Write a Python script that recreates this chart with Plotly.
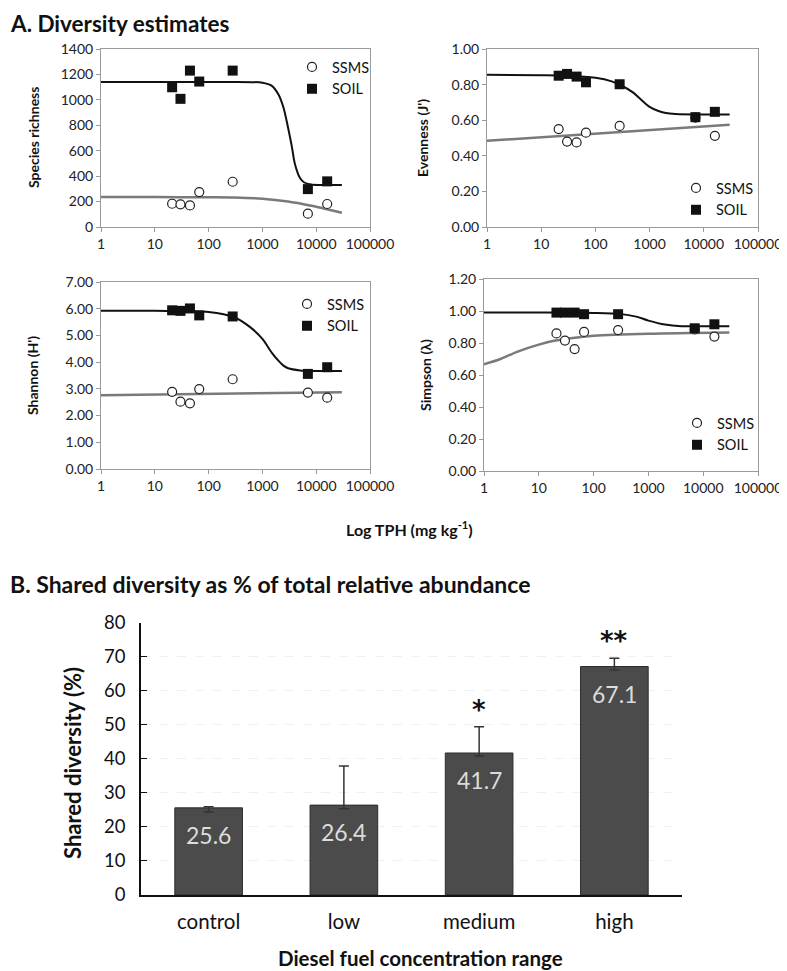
import plotly.graph_objects as go

# ---------------- data ----------------
tph = [21, 30, 45, 67, 280, 7000, 16000]

richness_ssms = [183, 178, 170, 275, 356, 105, 181]
richness_soil = [1099, 1008, 1230, 1144, 1230, 298, 359]
evenness_ssms = [0.55, 0.48, 0.475, 0.53, 0.568, 0.615, 0.512]
evenness_soil = [0.85, 0.86, 0.845, 0.813, 0.802, 0.617, 0.647]
shannon_ssms = [2.89, 2.52, 2.46, 2.99, 3.36, 2.86, 2.67]
shannon_soil = [5.94, 5.92, 6.01, 5.75, 5.71, 3.56, 3.81]
simpson_ssms = [0.86, 0.815, 0.762, 0.869, 0.881, 0.885, 0.84]
simpson_soil = [0.99, 0.99, 0.99, 0.98, 0.98, 0.892, 0.917]

# fitted curves
richness_soil_fit_x = [1, 10, 100, 1000, 1500, 2000, 2500, 3000, 3500, 4000, 5000, 6000, 8000, 12000, 30000]
richness_soil_fit_y = [1140, 1140, 1140, 1135, 1110, 1040, 930, 780, 640, 500, 385, 350, 335, 331, 330]
richness_ssms_fit_x = [1, 10, 100, 300, 1000, 3000, 6000, 10000, 20000, 30000]
richness_ssms_fit_y = [235, 235, 234, 232, 222, 200, 178, 160, 130, 112]

evenness_soil_fit_x = [1, 10, 30, 100, 200, 300, 500, 700, 1000, 1500, 2000, 3000, 10000, 30000]
evenness_soil_fit_y = [0.855, 0.853, 0.85, 0.838, 0.818, 0.795, 0.755, 0.715, 0.675, 0.65, 0.64, 0.635, 0.632, 0.632]
evenness_ssms_fit_x = [1, 30000]
evenness_ssms_fit_y = [0.484, 0.574]

shannon_soil_fit_x = [1, 10, 100, 300, 600, 1000, 1500, 2000, 2500, 3000, 5000, 10000, 30000]
shannon_soil_fit_y = [5.92, 5.92, 5.88, 5.68, 5.3, 4.87, 4.35, 4.05, 3.86, 3.77, 3.69, 3.67, 3.67]
shannon_ssms_fit_x = [1, 30000]
shannon_ssms_fit_y = [2.76, 2.875]

simpson_soil_fit_x = [1, 10, 100, 300, 600, 1000, 2000, 4000, 10000, 30000]
simpson_soil_fit_y = [0.99, 0.99, 0.988, 0.982, 0.965, 0.94, 0.915, 0.905, 0.905, 0.905]
simpson_ssms_fit_x = [1, 2, 4, 10, 20, 50, 100, 1000, 30000]
simpson_ssms_fit_y = [0.667, 0.70, 0.745, 0.79, 0.815, 0.835, 0.845, 0.858, 0.866]

x_tick_vals = [1, 10, 100, 1000, 10000, 100000]
x_tick_text = ["1", "10", "100", "1000", "10000", "100000"]

categories = ["control", "low", "medium", "high"]
shared = [25.6, 26.4, 41.7, 67.1]
err_plus = [0.3, 11.5, 7.7, 2.4]
err_minus = [1.2, 1.1, 0.9, 1.0]
significance = ["", "", "*", "**"]

# ---------------- layout helpers ----------------
# The page body has an 8px default margin, so the figure is 8px smaller
# and every screen position is shifted by 8px.
OFF = 8
W, H = 787 - OFF, 971 - OFF
FONT = "Lato, 'Open Sans', sans-serif"


def fx(p):
    return (p - OFF) / W


def fy(p):
    return 1 - (p - OFF) / H


def px_x(a, b):
    return [fx(a), fx(b)]


def px_y(top, bottom):
    return [fy(bottom), fy(top)]


fig = go.Figure()

panels = [
    ("", richness_ssms, richness_soil, richness_ssms_fit_x, richness_ssms_fit_y,
     richness_soil_fit_x, richness_soil_fit_y, "legend"),
    ("2", evenness_ssms, evenness_soil, evenness_ssms_fit_x, evenness_ssms_fit_y,
     evenness_soil_fit_x, evenness_soil_fit_y, "legend2"),
    ("3", shannon_ssms, shannon_soil, shannon_ssms_fit_x, shannon_ssms_fit_y,
     shannon_soil_fit_x, shannon_soil_fit_y, "legend3"),
    ("4", simpson_ssms, simpson_soil, simpson_ssms_fit_x, simpson_ssms_fit_y,
     simpson_soil_fit_x, simpson_soil_fit_y, "legend4"),
]

for suf, ssms, soil, sfx, sfy, ofx, ofy, leg in panels:
    xa, ya = "x" + suf, "y" + suf
    fig.add_trace(go.Scatter(x=sfx, y=sfy, mode="lines", xaxis=xa, yaxis=ya,
                             line=dict(color="#7a7a7a", width=2.5, shape="spline", smoothing=0.8),
                             showlegend=False, hoverinfo="skip"))
    fig.add_trace(go.Scatter(x=ofx, y=ofy, mode="lines", xaxis=xa, yaxis=ya,
                             line=dict(color="#111111", width=2, shape="spline", smoothing=0.8),
                             showlegend=False, hoverinfo="skip"))
    fig.add_trace(go.Scatter(x=tph, y=ssms, mode="markers", name="SSMS", xaxis=xa, yaxis=ya,
                             legend=leg,
                             marker=dict(symbol="circle", size=9, color="white",
                                         line=dict(color="#222222", width=1.2))))
    fig.add_trace(go.Scatter(x=tph, y=soil, mode="markers", name="SOIL", xaxis=xa, yaxis=ya,
                             legend=leg,
                             marker=dict(symbol="square", size=10, color="#111111",
                                         line=dict(color="#111111", width=0))))

# bar chart
fig.add_trace(go.Bar(x=categories, y=shared, xaxis="x5", yaxis="y5",
                     marker=dict(color="#4b4b4b", line=dict(color="#2c2c2c", width=1)),
                     error_y=dict(type="data", array=err_plus, arrayminus=err_minus,
                                  color="#333333", thickness=1.5, width=5),
                     showlegend=False, width=0.5, hoverinfo="skip"))

small_x = dict(type="log", range=[0, 5], tickvals=x_tick_vals, ticktext=x_tick_text,
               showgrid=False, zeroline=False, showline=True, linecolor="#9a9a9a",
               linewidth=1, mirror=True, ticks="outside", ticklen=4, tickcolor="#9a9a9a",
               tickfont=dict(family=FONT, size=14, color="#222"))


def small_y(rng, dtick, fmt):
    return dict(range=rng, dtick=dtick, tickformat=fmt, showgrid=False, zeroline=False,
                showline=True, linecolor="#9a9a9a", linewidth=1, mirror=True,
                ticks="outside", ticklen=4, tickcolor="#9a9a9a",
                tickfont=dict(family=FONT, size=14, color="#222"))


leg_common = dict(bgcolor="rgba(0,0,0,0)", borderwidth=0,
                  font=dict(family=FONT, size=14.5, color="#111"),
                  xanchor="left", yanchor="top", itemsizing="trace", tracegroupgap=0)

layout = dict(
    width=W, height=H, margin=dict(l=0, r=0, t=0, b=0, autoexpand=False),
    paper_bgcolor="white", plot_bgcolor="white",
    font=dict(family=FONT, color="#111"),
    xaxis=dict(small_x, domain=px_x(101, 370), anchor="y"),
    yaxis=dict(small_y([0, 1400], 200, "d"), domain=px_y(49, 227), anchor="x"),
    xaxis2=dict(small_x, domain=px_x(487, 758), anchor="y2"),
    yaxis2=dict(small_y([0, 1.0], 0.2, ".2f"), domain=px_y(49, 227), anchor="x2"),
    xaxis3=dict(small_x, domain=px_x(101, 370), anchor="y3"),
    yaxis3=dict(small_y([0, 7], 1, ".2f"), domain=px_y(282, 469), anchor="x3"),
    xaxis4=dict(small_x, domain=px_x(484, 758), anchor="y4"),
    yaxis4=dict(small_y([0, 1.2], 0.2, ".2f"), domain=px_y(279, 471), anchor="x4"),
    xaxis5=dict(domain=px_x(141, 682), anchor="y5", showline=True, linecolor="#111",
                linewidth=1.5, ticks="", showgrid=False, ticklabelstandoff=8,
                tickfont=dict(family=FONT, size=20.5, color="#111")),
    yaxis5=dict(domain=px_y(622.6, 895), anchor="x5", range=[0, 80], dtick=10,
                showline=True, linecolor="#111", linewidth=1.5, ticks="inside",
                ticklen=6, tickcolor="#111", showgrid=True, gridcolor="#f0f0f0",
                griddash="dash", zeroline=False, ticklabelstandoff=10,
                tickfont=dict(family=FONT, size=18.5, color="#111")),
    legend=dict(leg_common, x=fx(292), y=fy(51)),
    legend2=dict(leg_common, x=fx(676), y=fy(172)),
    legend3=dict(leg_common, x=fx(287), y=fy(288)),
    legend4=dict(leg_common, x=fx(677), y=fy(407)),
    bargap=0.5,
)
fig.update_layout(**layout)

ann = []


def txt(x, y, text, size, angle=0, anchor="center", vanchor="middle"):
    ann.append(dict(x=fx(x), y=fy(y), xref="paper", yref="paper", text=text,
                    showarrow=False, textangle=angle, xanchor=anchor, yanchor=vanchor,
                    font=dict(family=FONT, size=size, color="#111")))


txt(8, 8, "<b>A. Diversity estimates</b>", 22.5, anchor="left", vanchor="top")
txt(8, 584, "<b>B. Shared diversity as % of total relative abundance</b>", 23, anchor="left")
txt(409, 528, "<b>Log TPH (mg kg<sup>-1</sup>)</b>", 16)
txt(34, 138, "<b>Species richness</b>", 14, angle=-90)
txt(423, 138, "<b>Evenness (J')</b>", 14, angle=-90)
txt(33, 376, "<b>Shannon (H')</b>", 14, angle=-90)
txt(425, 375, "<b>Simpson (λ)</b>", 14, angle=-90)
txt(72, 763, "<b>Shared diversity (%)</b>", 22, angle=-90)
txt(420, 958, "<b>Diesel fuel concentration range</b>", 20.5)

# value labels inside bars
for c, v in zip(categories, shared):
    ann.append(dict(x=c, y=v, xref="x5", yref="y5", text=f"{v:.1f}", showarrow=False,
                    xanchor="center", yanchor="top", yshift=-11,
                    font=dict(family=FONT, size=23, color="#dcdcdc")))

# significance stars
for c, v, e, s in zip(categories, shared, err_plus, significance):
    if s:
        ann.append(dict(x=c, y=v + e, xref="x5", yref="y5", text=f"<b>{s}</b>", showarrow=False,
                        xanchor="center", yanchor="bottom", yshift=0,
                        font=dict(family="DejaVu Sans", size=26, color="#111")))

fig.update_layout(annotations=ann)
fig.write_html("out.html")
